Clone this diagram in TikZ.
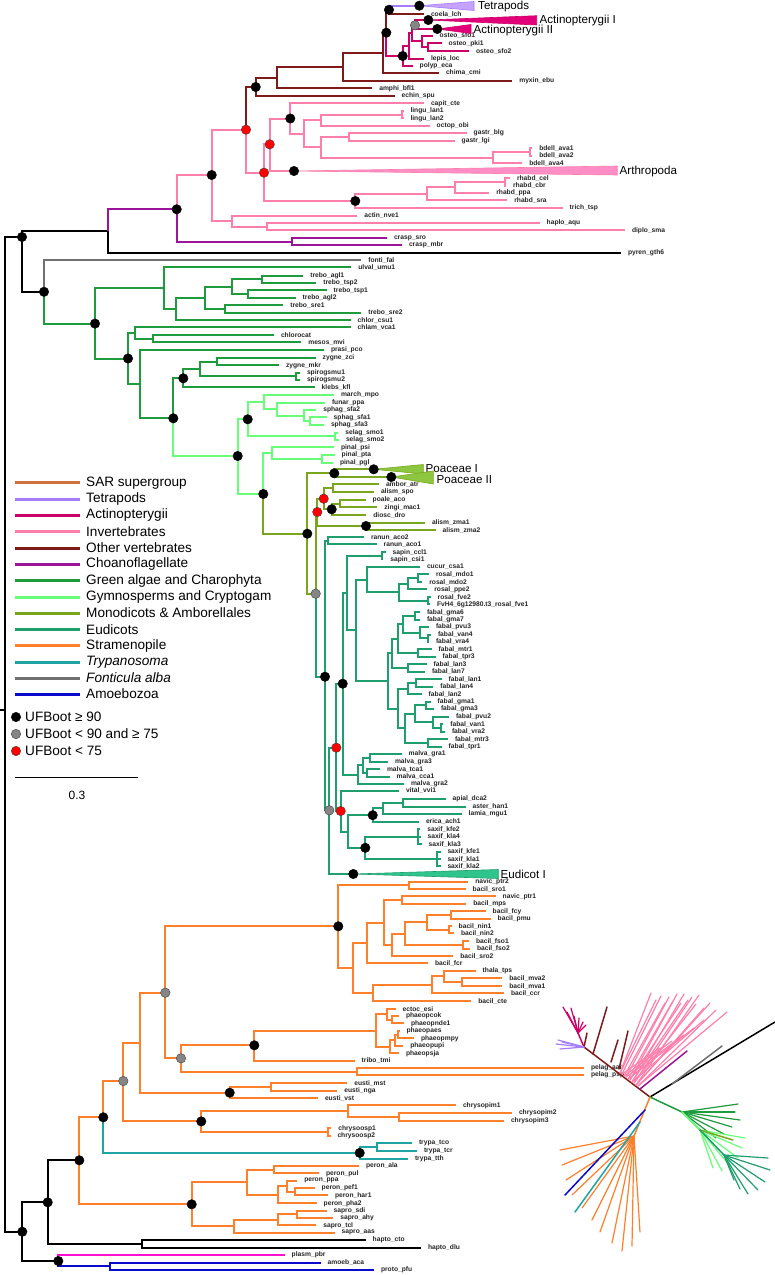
\documentclass[tikz,border=0pt]{standalone}
\usepackage{fontspec}
\setmainfont{Liberation Sans}
\definecolor{cov}{HTML}{7F1A1A}
\definecolor{ctp}{HTML}{A67CFF}
\definecolor{ctpf}{HTML}{C6A2FF}
\definecolor{cac}{HTML}{CC0066}
\definecolor{cacf}{HTML}{E2007A}
\definecolor{civ}{HTML}{FF7FAA}
\definecolor{civf}{HTML}{FF8DC6}
\definecolor{cch}{HTML}{9B159B}
\definecolor{cga}{HTML}{1E9B3C}
\definecolor{cgy}{HTML}{66FF77}
\definecolor{cmo}{HTML}{7AA61E}
\definecolor{cmof}{HTML}{8DC63F}
\definecolor{ceu}{HTML}{1F9E6E}
\definecolor{ceuf}{HTML}{2EC48C}
\definecolor{cst}{HTML}{FF7F2A}
\definecolor{ctr}{HTML}{1FA3A3}
\definecolor{cfa}{HTML}{707070}
\definecolor{cam}{HTML}{0A0ACC}
\definecolor{csar}{HTML}{D0703C}
\definecolor{cpl}{HTML}{FF10D0}
\newcommand\Nd[5]{\coordinate (#1) at (#3,#4); \draw[#5] (#2) |- (#1);}
\newcommand\Lf[6]{\coordinate (#1) at (#3,#4); \draw[#5] (#2) |- (#1); \node[lab] (#1t) at (#1) {#6};}
\tikzset{
 lab/.style={anchor=west, inner sep=0pt, xshift=6pt, font=\fontsize{6.7}{7}\selectfont\bfseries, text=black!85},
 big/.style={anchor=west, inner sep=0pt, font=\fontsize{11.6}{13}\selectfont},
 legt/.style={anchor=west, inner sep=0pt, font=\fontsize{13.6}{15}\selectfont},
 bd/.style={circle, fill=black, draw=black, line width=0.4pt, minimum size=9.5pt, inner sep=0pt},
 gd/.style={circle, fill=black!48, draw=black!75, line width=0.4pt, minimum size=9.5pt, inner sep=0pt},
 rd/.style={circle, fill=red, draw=black!75, line width=0.4pt, minimum size=9.5pt, inner sep=0pt},
}
\begin{document}
\begin{tikzpicture}[x=1pt,y=-1pt]
\fill[white] (0,0) rectangle (775,1275);
\useasboundingbox (0,0) rectangle (775,1275);
\begin{scope}[line width=2pt]
\coordinate (rootstub) at (0,710);
\coordinate (root) at (5,710);
\draw[black] (rootstub) -- (root);
\Nd{Q}{root}{22}{237}{black}
\Nd{P}{Q}{108}{231}{black}
\Nd{R}{Q}{44}{291.8}{black}
\Lf{pyren}{P}{621}{252.7}{black}{pyren\_gth6}
\Lf{fonti}{R}{361.3}{260}{cfa}{fonti\_fal}
% animals
\Nd{Ch}{P}{176.7}{209.3}{cch}
\Nd{Cr}{Ch}{291.7}{241.5}{cch}
\Lf{craspsro}{Cr}{387}{238}{cch}{crasp\_sro}
\Lf{craspmbr}{Cr}{402}{245}{cch}{crasp\_mbr}
\Nd{K0}{Ch}{211.7}{175}{civ}
\Nd{A2}{K0}{231.7}{221.2}{civ}
\Lf{actin}{A2}{357.3}{215.7}{civ}{actin\_nve1}
\Nd{A1}{A2}{266.7}{226.7}{civ}
\Lf{haplo}{A1}{539.7}{223}{civ}{haplo\_aqu}
\Lf{diplo}{A1}{625}{230.3}{civ}{diplo\_sma}
\Nd{Iv}{K0}{246}{129.7}{civ}
\Nd{E}{Iv}{255.7}{87}{cov}
\Nd{V1}{E}{276.7}{77.5}{cov}
\Lf{echin}{E}{394.7}{95.7}{cov}{echin\_spu}
\Nd{V2}{V1}{343.3}{66.5}{cov}
\Lf{amphi}{V1}{372.3}{88.3}{cov}{amphi\_bfl1}
\Nd{V3}{V2}{383}{52.7}{cov}
\Lf{myxin}{V2}{512.3}{80.7}{cov}{myxin\_ebu}
\Nd{S}{V3}{386.3}{32.7}{cov}
\Lf{chima}{V3}{439}{72.7}{cov}{chima\_cmi}
\Nd{T}{S}{389}{9.8}{cov}
\Nd{Tet}{T}{419.3}{5.7}{ctp}
\Lf{coela}{T}{424}{14}{cov}{coela\_lch}
\Nd{Ac}{S}{402.7}{56}{cac}
\Nd{Ac2}{Ac}{409}{46}{cac}
\Lf{polyp}{Ac}{412.7}{66}{cac}{polyp\_eca}
\Nd{A3}{Ac2}{412}{33.2}{cac}
\Lf{lepis}{Ac2}{424}{59}{cac}{lepis\_loc}
\Nd{AA}{A3}{415}{25.3}{cac}
\Nd{O1}{A3}{421.7}{41.4}{cac}
\Nd{AI}{AA}{428.3}{20}{cac}
\Nd{AII}{AA}{437.3}{29}{cac}
\Lf{osfo1}{O1}{432.7}{35.7}{cac}{osteo\_sfo1}
\Nd{O2}{O1}{428.3}{47.2}{cac}
\Lf{opki1}{O2}{441.7}{43.3}{cac}{osteo\_pki1}
\Lf{osfo2}{O2}{469}{51}{cac}{osteo\_sfo2}
\Nd{I}{Iv}{264}{172.7}{civ}
\Nd{J}{I}{269.7}{144.3}{civ}
\Nd{K}{J}{290.3}{118.5}{civ}
\Lf{capit}{K}{424}{103.3}{civ}{capit\_cte}
\Nd{Kb}{K}{304.3}{133.7}{civ}
\Nd{L1}{Kb}{320.7}{120.2}{civ}
\Nd{Lg}{L1}{401.7}{114.7}{civ}
\Lf{lingu1}{Lg}{403.5}{111}{civ}{lingu\_lan1}
\Lf{lingu2}{Lg}{403.5}{118.3}{civ}{lingu\_lan2}
\Lf{octop}{L1}{429.7}{125.7}{civ}{octop\_obi}
\Nd{L2}{Kb}{321}{147.2}{civ}
\Nd{Gs}{L2}{348.7}{136.7}{civ}
\Lf{gastrb}{Gs}{466.7}{132.7}{civ}{gastr\_blg}
\Lf{gastrl}{Gs}{454.7}{140.7}{civ}{gastr\_lgi}
\Nd{Bd}{L2}{493.3}{157.7}{civ}
\Nd{Bd1}{Bd}{530}{152}{civ}
\Lf{bdell1}{Bd1}{532.3}{148.3}{civ}{bdell\_ava1}
\Lf{bdell2}{Bd1}{532.3}{155.7}{civ}{bdell\_ava2}
\Lf{bdell4}{Bd}{522.3}{163.3}{civ}{bdell\_ava4}
\Nd{Arth}{J}{294}{171}{civ}
\Nd{R1}{I}{355.3}{201}{civ}
\Nd{R3}{R1}{426.7}{193.8}{civ}
\Lf{trich}{R1}{562.7}{208}{civ}{trich\_tsp}
\Nd{R4}{R3}{455}{187.3}{civ}
\Lf{rhsra}{R3}{507.3}{200.3}{civ}{rhabd\_sra}
\Nd{Rp}{R4}{505}{182}{civ}
\Lf{rhppa}{R4}{489.3}{192.7}{civ}{rhabd\_ppa}
\Lf{rhcel}{Rp}{510}{178.3}{civ}{rhabd\_cel}
\Lf{rhcbr}{Rp}{506}{185.7}{civ}{rhabd\_cbr}
% green algae
\Nd{G1}{R}{95}{323.6}{cga}
\Nd{G2}{G1}{164}{288.2}{cga}
\Lf{ulval}{G2}{351.3}{267.3}{cga}{ulval\_umu1}
\Nd{G3}{G2}{176}{309}{cga}
\Nd{G4}{G3}{205}{297.9}{cga}
\Lf{chlor}{G3}{350.7}{320}{cga}{chlor\_csu1}
\Nd{G5}{G4}{231.7}{286.7}{cga}
\Nd{Tp3}{G4}{225}{309}{cga}
\Nd{Tp1}{G5}{262}{279.3}{cga}
\Nd{Tp2}{G5}{248}{294}{cga}
\Lf{tagl1}{Tp1}{303.3}{275.7}{cga}{trebo\_agl1}
\Lf{ttsp2}{Tp1}{316.3}{283}{cga}{trebo\_tsp2}
\Lf{ttsp1}{Tp2}{326.7}{290.3}{cga}{trebo\_tsp1}
\Lf{tagl2}{Tp2}{295.7}{297.7}{cga}{trebo\_agl2}
\Lf{tsre1}{Tp3}{283.3}{305.3}{cga}{trebo\_sre1}
\Lf{tsre2}{Tp3}{361.3}{312.7}{cga}{trebo\_sre2}
\Nd{Nb}{G1}{128}{358.5}{cga}
\Nd{Nq}{Nb}{135}{333}{cga}
\Lf{chlam}{Nq}{350.7}{327.3}{cga}{chlam\_vca1}
\Nd{Cm}{Nq}{153.3}{338.7}{cga}
\Lf{chlorocat}{Cm}{274}{335}{cga}{chlorocat}
\Lf{mesos}{Cm}{301.3}{342.3}{cga}{mesos\_mvi}
\Nd{Np}{Nb}{140}{384}{cga}
\Lf{prasi}{Np}{324}{350}{cga}{prasi\_pco}
\Nd{Z4}{Np}{173.3}{418.3}{cga}
\Nd{Z3}{Z4}{183.3}{378.3}{cga}
\Nd{Z2}{Z3}{200}{368.9}{cga}
\Lf{klebs}{Z3}{314.7}{387.3}{cga}{klebs\_kfl}
\Nd{Zy}{Z2}{216.7}{361.5}{cga}
\Nd{Sp}{Z2}{295.7}{376.3}{cga}
\Lf{zzci}{Zy}{315.7}{357.7}{cga}{zygne\_zci}
\Lf{zmkr}{Zy}{279}{365.3}{cga}{zygne\_mkr}
\Lf{spiro1}{Sp}{300}{372.7}{cga}{spirogsmu1}
\Lf{spiro2}{Sp}{300}{380}{cga}{spirogsmu2}
% gymnosperms and cryptogams
\Nd{Gy}{Z4}{237.7}{456}{cgy}
\Nd{M}{Gy}{247.7}{419.3}{cgy}
\Nd{Br1}{M}{264.3}{402}{cgy}
\Lf{march}{Br1}{334}{395}{cgy}{march\_mpo}
\Nd{Br2}{Br1}{276.7}{409.1}{cgy}
\Lf{funar}{Br2}{325}{402.7}{cgy}{funar\_ppa}
\Nd{Sph}{Br2}{304}{415.5}{cgy}
\Lf{sfa2}{Sph}{316.3}{410}{cgy}{sphag\_sfa2}
\Nd{Sph2}{Sph}{310}{421}{cgy}
\Lf{sfa1}{Sph2}{326.7}{417.3}{cgy}{sphag\_sfa1}
\Lf{sfa3}{Sph2}{324}{424.7}{cgy}{sphag\_sfa3}
\Nd{Se}{M}{335}{436.3}{cgy}
\Lf{smo1}{Se}{338.3}{432.7}{cgy}{selag\_smo1}
\Lf{smo2}{Se}{339}{440}{cgy}{selag\_smo2}
\Nd{Sp2}{Gy}{263.3}{494}{cgy}
\Nd{Pn0}{Sp2}{271.7}{453}{cgy}
\Lf{psi}{Pn0}{334}{447.3}{cgy}{pinal\_psi}
\Nd{Pn1}{Pn0}{321.7}{458.8}{cgy}
\Lf{pta}{Pn1}{334.7}{455}{cgy}{pinal\_pta}
\Lf{pgl}{Pn1}{333}{462.7}{cgy}{pinal\_pgl}
% monocots
\Nd{Mon}{Sp2}{307.3}{533.7}{cmo}
\Nd{Poa}{Mon}{334.3}{473.3}{cmo}
\Nd{PI}{Poa}{373.7}{469.3}{cmo}
\Nd{PII}{Poa}{391.3}{477}{cmo}
\Nd{Gm}{Mon}{315.7}{593.7}{cmo}
\Nd{red1}{Gm}{317.3}{512}{cmo}
\Nd{red2}{red1}{323.7}{498.7}{cmo}
\Nd{AmA}{red2}{332.7}{488}{cmo}
\Lf{ambor}{AmA}{379}{484.3}{cmo}{ambor\_atr}
\Lf{alspo}{AmA}{374}{491.7}{cmo}{alism\_spo}
\Nd{Po}{red2}{331.7}{509.3}{cmo}
\Nd{Pz}{Po}{340}{503.7}{cmo}
\Lf{poale}{Pz}{365.7}{500}{cmo}{poale\_aco}
\Lf{zingi}{Pz}{377.3}{507.3}{cmo}{zingi\_mac1}
\Lf{diosc}{Po}{366.3}{515}{cmo}{diosc\_dro}
\Nd{Az}{red1}{366}{526}{cmo}
\Lf{zma1}{Az}{425}{522.7}{cmo}{alism\_zma1}
\Lf{zma2}{Az}{435.7}{530}{cmo}{alism\_zma2}
% eudicots
\Nd{Eu}{Gm}{325}{676.7}{ceu}
\Nd{Ra}{Eu}{328.3}{540.8}{ceu}
\Lf{raco2}{Ra}{364}{537.3}{ceu}{ranun\_aco2}
\Lf{raco1}{Ra}{376.7}{544.3}{ceu}{ranun\_aco1}
\Nd{Gr}{Eu}{329.3}{810.3}{ceu}
\Nd{R5}{Gr}{336.3}{747.7}{ceu}
\Nd{EI}{Gr}{353.3}{874}{ceu}
\Nd{MS}{R5}{342.7}{683.7}{ceu}
\Nd{R6}{R5}{340.7}{811}{ceu}
\Nd{SF}{MS}{347.3}{593}{ceu}
\Nd{M4}{MS}{358.3}{774.7}{ceu}
\Nd{Sa}{SF}{381.7}{555.8}{ceu}
\Lf{sccl1}{Sa}{385.7}{552.3}{ceu}{sapin\_ccl1}
\Lf{scsi1}{Sa}{383.3}{559.3}{ceu}{sapin\_csi1}
\Nd{FR}{SF}{356}{630.2}{ceu}
\Nd{CR}{FR}{366.7}{579.5}{ceu}
\Lf{cucur}{CR}{420}{566.7}{ceu}{cucur\_csa1}
\Nd{Ro}{CR}{399.3}{592.2}{ceu}
\Nd{RoP}{Ro}{408.3}{583.8}{ceu}
\Nd{Rm}{RoP}{417.7}{578.2}{ceu}
\Lf{mdo1}{Rm}{429}{574.3}{ceu}{rosal\_mdo1}
\Lf{mdo2}{Rm}{422.3}{582}{ceu}{rosal\_mdo2}
\Lf{ppe2}{RoP}{427.3}{589.3}{ceu}{rosal\_ppe2}
\Nd{Rf}{Ro}{427.7}{600.7}{ceu}
\Lf{fve2}{Rf}{430.7}{597}{ceu}{rosal\_fve2}
\Lf{fve1}{Rf}{430}{604.3}{ceu}{FvH4\_6g12980.t3\_rosal\_fve1}
\Nd{Fab}{FR}{388.3}{681}{ceu}
\Nd{P8}{Fab}{392}{653.4}{ceu}
\Nd{P6}{P8}{398}{638.8}{ceu}
\Nd{P4}{P6}{403}{624.4}{ceu}
\Nd{P1}{P4}{415}{616.2}{ceu}
\Lf{gma6}{P1}{420}{612.3}{ceu}{fabal\_gma6}
\Lf{gma7}{P1}{420}{619.7}{ceu}{fabal\_gma7}
\Nd{P3}{P4}{420}{632.7}{ceu}
\Lf{pvu3}{P3}{429}{627}{ceu}{fabal\_pvu3}
\Nd{P2}{P3}{428}{638.3}{ceu}
\Lf{van4}{P2}{431}{634.5}{ceu}{fabal\_van4}
\Lf{vra4}{P2}{429}{641.7}{ceu}{fabal\_vra4}
\Nd{P5}{P6}{418}{653.2}{ceu}
\Lf{mtr1}{P5}{431.7}{649.3}{ceu}{fabal\_mtr1}
\Lf{tpr3}{P5}{435.7}{657}{ceu}{fabal\_tpr3}
\Nd{P7}{P8}{408}{668}{ceu}
\Lf{lan3}{P7}{426.7}{664.3}{ceu}{fabal\_lan3}
\Lf{lan7}{P7}{425}{671.7}{ceu}{fabal\_lan7}
\Nd{Q9}{Fab}{398}{708.5}{ceu}
\Nd{Q2}{Q9}{408}{688.6}{ceu}
\Nd{Q1}{Q2}{416}{682.8}{ceu}
\Lf{lan1}{Q1}{441.7}{679}{ceu}{fabal\_lan1}
\Lf{lan4}{Q1}{433.3}{686.7}{ceu}{fabal\_lan4}
\Lf{lan2}{Q2}{421.7}{694.3}{ceu}{fabal\_lan2}
\Nd{Q8}{Q9}{405}{728.3}{ceu}
\Nd{Q6}{Q8}{415}{713.8}{ceu}
\Nd{Q3}{Q6}{426}{705.3}{ceu}
\Lf{gma1}{Q3}{430.7}{701.7}{ceu}{fabal\_gma1}
\Lf{gma3}{Q3}{434}{709}{ceu}{fabal\_gma3}
\Nd{Q5}{Q6}{433}{722.3}{ceu}
\Lf{pvu2}{Q5}{449}{716.7}{ceu}{fabal\_pvu2}
\Nd{Q4}{Q5}{441}{727.8}{ceu}
\Lf{van1}{Q4}{443.3}{724}{ceu}{fabal\_van1}
\Lf{vra2}{Q4}{445}{731.7}{ceu}{fabal\_vra2}
\Nd{Q7}{Q8}{428}{742.8}{ceu}
\Lf{mtr3}{Q7}{448}{739}{ceu}{fabal\_mtr3}
\Lf{tpr1}{Q7}{441.7}{746.7}{ceu}{fabal\_tpr1}
\Nd{M3}{M4}{363.3}{765.3}{ceu}
\Lf{gra2}{M4}{404}{784}{ceu}{malva\_gra2}
\Nd{M1}{M3}{370}{757.8}{ceu}
\Lf{gra1}{M1}{401.7}{754}{ceu}{malva\_gra1}
\Lf{gra3}{M1}{388}{761.7}{ceu}{malva\_gra3}
\Nd{M2}{M3}{366.7}{772.8}{ceu}
\Lf{tca1}{M2}{380}{769}{ceu}{malva\_tca1}
\Lf{cca1}{M2}{389.7}{776.7}{ceu}{malva\_cca1}
\Lf{vital}{R6}{399}{790.7}{ceu}{vital\_vvi1}
\Nd{As0}{R6}{348.3}{831.5}{ceu}
\Nd{Ast}{As0}{372.7}{815.2}{ceu}
\Nd{A2n}{Ast}{383.3}{808.4}{ceu}
\Nd{A1n}{A2n}{403.3}{802.8}{ceu}
\Lf{apial}{A1n}{445.7}{799}{ceu}{apial\_dca2}
\Lf{aster}{A1n}{465.7}{806.7}{ceu}{aster\_han1}
\Lf{lamia}{A2n}{461.7}{814}{ceu}{lamia\_mgu1}
\Lf{erica}{Ast}{419}{821.7}{ceu}{erica\_ach1}
\Nd{Sx}{As0}{365.3}{847.8}{ceu}
\Nd{Sx1}{Sx}{418.3}{836.5}{ceu}
\Lf{kfe2}{Sx1}{420.3}{829}{ceu}{saxif\_kfe2}
\Lf{kla4}{Sx1}{420.7}{836.7}{ceu}{saxif\_kla4}
\Lf{kla3}{Sx1}{421.7}{844}{ceu}{saxif\_kla3}
\Nd{Sx2}{Sx}{436.7}{859}{ceu}
\Lf{kfe1}{Sx2}{440.5}{851.7}{ceu}{saxif\_kfe1}
\Lf{kla1}{Sx2}{440.5}{859}{ceu}{saxif\_kla1}
\Lf{kla2}{Sx2}{440.5}{866.3}{ceu}{saxif\_kla2}
% bottom part
\Nd{B0}{root}{22.3}{1231.7}{black}
\Nd{B1}{B0}{47.7}{1202.3}{black}
\Nd{Am}{B0}{58.3}{1261}{black}
\Lf{plasm}{Am}{284.7}{1255}{cpl}{plasm\_pbr}
\Nd{Amo}{Am}{110}{1266.3}{cam}
\Lf{amoeb}{Amo}{320.7}{1262.7}{cam}{amoeb\_aca}
\Lf{proto}{Amo}{374}{1270}{cam}{proto\_pfu}
\Nd{B2}{B1}{79.3}{1160.3}{black}
\Nd{Hap}{B1}{142.3}{1243.8}{black}
\Lf{hcto}{Hap}{365.7}{1240}{black}{hapto\_cto}
\Lf{hdlu}{Hap}{421}{1247.7}{black}{hapto\_dlu}
\Nd{B3}{B2}{103.3}{1117.3}{cst}
\Nd{PS}{B2}{191.7}{1204.3}{cst}
\Nd{B4}{B3}{123.3}{1081}{cst}
\Nd{Tr}{B3}{359.7}{1152.9}{ctr}
\Nd{Tr2}{Tr}{376.7}{1147}{ctr}
\Lf{tco}{Tr2}{412}{1143}{ctr}{trypa\_tco}
\Lf{tcr}{Tr2}{417}{1151}{ctr}{trypa\_tcr}
\Lf{tth}{Tr}{408}{1158.7}{ctr}{trypa\_tth}
\Nd{B7}{B4}{140}{1042.5}{cst}
\Nd{Chr}{B4}{201.3}{1121.4}{cst}
\Nd{B8}{B7}{165.3}{992.7}{cst}
\Nd{Eus}{B7}{229.7}{1092.7}{cst}
\Nd{E1}{Eus}{270.7}{1087}{cst}
\Lf{emst}{E1}{347.3}{1083.3}{cst}{eusti\_mst}
\Lf{enga}{E1}{337.3}{1090.7}{cst}{eusti\_nga}
\Lf{evst}{Eus}{318}{1098.3}{cst}{eusti\_vst}
\Nd{Cp1}{Chr}{347.7}{1111}{cst}
\Lf{cpim1}{Cp1}{456}{1105.3}{cst}{chrysopim1}
\Nd{Cp2}{Cp1}{399}{1116.8}{cst}
\Lf{cpim2}{Cp2}{512}{1113}{cst}{chrysopim2}
\Lf{cpim3}{Cp2}{504}{1120.7}{cst}{chrysopim3}
\Nd{Co}{Chr}{328.3}{1131.8}{cst}
\Lf{coosp1}{Co}{331.3}{1128.3}{cst}{chrysoosp1}
\Lf{coosp2}{Co}{330.5}{1135.7}{cst}{chrysoosp2}
\Nd{Bac}{B8}{338.3}{926.3}{cst}
\Nd{B6}{B8}{181}{1058.3}{cst}
\Nd{Ph}{B6}{254.3}{1045.3}{cst}
\Nd{Pel}{B6}{356.7}{1071.5}{cst}
\Lf{paan}{Pel}{584}{1068}{cst}{pelag\_aan}
\Lf{ppsp}{Pel}{584}{1075}{cst}{pelag\_psp}
\Nd{Phe}{Ph}{376}{1030.5}{cst}
\Lf{tribo}{Ph}{354.7}{1060.7}{cst}{tribo\_tmi}
\Nd{Ec}{Phe}{386.7}{1014.3}{cst}
\Lf{ectoc}{Ec}{395.7}{1009}{cst}{ectoc\_esi}
\Nd{Ec2}{Ec}{392.3}{1019.7}{cst}
\Lf{pcok}{Ec2}{399}{1016}{cst}{phaeopcok}
\Lf{pnde}{Ec2}{404}{1023.3}{cst}{phaeopnde1}
\Nd{Pha}{Phe}{390}{1046.8}{cst}
\Nd{Pp2}{Pha}{395}{1040.2}{cst}
\Nd{Pp1}{Pp2}{398.3}{1034.7}{cst}
\Lf{paes}{Pp1}{399.5}{1031}{cst}{phaeopaes}
\Lf{pmpy}{Pp1}{414}{1038.3}{cst}{phaeopmpy}
\Lf{pupi}{Pp2}{403.3}{1045.7}{cst}{phaeopupi}
\Lf{psja}{Pha}{399}{1053.3}{cst}{phaeopsja}
\Nd{N1}{Bac}{409.3}{885.3}{cst}
\Lf{nptr2}{N1}{468.3}{881.7}{cst}{navic\_ptr2}
\Lf{bsro1}{N1}{465.7}{889}{cst}{bacil\_sro1}
\Nd{N2}{Bac}{352.7}{968}{cst}
\Nd{N3}{N2}{367.3}{942.9}{cst}
\Nd{N4}{N2}{372.7}{992.9}{cst}
\Nd{N5}{N3}{384}{922.5}{cst}
\Lf{bfcr}{N3}{428}{963.3}{cst}{bacil\_fcr}
\Nd{N6}{N5}{401.7}{900.2}{cst}
\Lf{nptr1}{N6}{495.7}{896.3}{cst}{navic\_ptr1}
\Lf{bmps}{N6}{466.3}{904}{cst}{bacil\_mps}
\Nd{N7}{N5}{391.7}{944.8}{cst}
\Nd{N8}{N7}{405}{933.6}{cst}
\Lf{bsro2}{N7}{453.3}{956}{cst}{bacil\_sro2}
\Nd{N9}{N8}{427.3}{922.4}{cst}
\Nd{Fs}{N8}{463.3}{944.8}{cst}
\Lf{bfso1}{Fs}{469}{941}{cst}{bacil\_fso1}
\Lf{bfso2}{Fs}{470}{948.7}{cst}{bacil\_fso2}
\Nd{Fp}{N9}{450.7}{915.2}{cst}
\Lf{bfcy}{Fp}{485.7}{911.3}{cst}{bacil\_fcy}
\Lf{bpmu}{Fp}{490.7}{919}{cst}{bacil\_pmu}
\Nd{Ni}{N9}{449}{929.7}{cst}
\Lf{bnin1}{Ni}{451.7}{926}{cst}{bacil\_nin1}
\Lf{bnin2}{Ni}{454}{933.3}{cst}{bacil\_nin2}
\Nd{N10}{N4}{431.7}{984.8}{cst}
\Lf{bcte}{N4}{471.3}{1001}{cst}{bacil\_cte}
\Nd{N11}{N10}{444}{976.4}{cst}
\Lf{bccr}{N10}{504}{993.3}{cst}{bacil\_ccr}
\Lf{thala}{N11}{475.7}{970.7}{cst}{thala\_tps}
\Nd{Mv}{N11}{462.3}{982.2}{cst}
\Lf{mva2}{Mv}{502.3}{978.3}{cst}{bacil\_mva2}
\Lf{mva1}{Mv}{502.3}{986}{cst}{bacil\_mva1}
\Nd{Pe5}{PS}{247.3}{1182.2}{cst}
\Nd{Pe1}{Pe5}{274.3}{1169.5}{cst}
\Lf{pala}{Pe1}{359}{1165.7}{cst}{peron\_ala}
\Lf{ppul}{Pe1}{319}{1173.3}{cst}{peron\_pul}
\Nd{Pe4}{Pe5}{277.7}{1194.8}{cst}
\Nd{Pe3}{Pe4}{286.7}{1186.2}{cst}
\Lf{pppa}{Pe3}{297.3}{1180.7}{cst}{peron\_ppa}
\Nd{Pe2}{Pe3}{295}{1191.7}{cst}
\Lf{ppef1}{Pe2}{314.7}{1188}{cst}{peron\_pef1}
\Lf{phar1}{Pe2}{328}{1195.3}{cst}{peron\_har1}
\Lf{ppha2}{Pe4}{316.7}{1203.3}{cst}{peron\_pha2}
\Nd{Sa3}{PS}{234.3}{1226.2}{cst}
\Nd{Sa2}{Sa3}{278.3}{1219.8}{cst}
\Nd{Sa1}{Sa2}{296.7}{1214.3}{cst}
\Lf{ssdi}{Sa1}{326.7}{1210.7}{cst}{sapro\_sdi}
\Lf{sahy}{Sa1}{333.3}{1218}{cst}{sapro\_ahy}
\Lf{stcl}{Sa2}{316.3}{1225.3}{cst}{sapro\_tcl}
\Lf{saas}{Sa3}{334.7}{1232.7}{cst}{sapro\_aas}
\end{scope}
% collapsed clades
\coordinate (TetB1) at (474,1.5); \coordinate (TetB2) at (474,10.5);
\filldraw[fill=ctpf, draw=ctp, line width=0.6pt] (Tet) -- (TetB1) -- (TetB2) -- cycle;
\node[big] (TetL) at (478,6) {Tetrapods};
\coordinate (AIB1) at (536.7,15.7); \coordinate (AIB2) at (536.7,25);
\filldraw[fill=cacf, draw=cac, line width=0.6pt] (AI) -- (AIB1) -- (AIB2) -- cycle;
\node[big] (AIL) at (539.5,20.5) {Actinopterygii I};
\coordinate (AIIB1) at (471,24.5); \coordinate (AIIB2) at (471,33.5);
\filldraw[fill=cacf, draw=cac, line width=0.6pt] (AII) -- (AIIB1) -- (AIIB2) -- cycle;
\node[big] (AIIL) at (473.5,30.5) {Actinopterygii II};
\coordinate (ArB1) at (617.3,166); \coordinate (ArB2) at (617.3,175);
\filldraw[fill=civf, draw=civ, line width=0.6pt] (Arth) -- (ArB1) -- (ArB2) -- cycle;
\node[big] (ArL) at (619.5,171) {Arthropoda};
\coordinate (PIB1) at (423.3,464.5); \coordinate (PIB2) at (423.3,474);
\filldraw[fill=cmof, draw=cmo, line width=0.6pt] (PI) -- (PIB1) -- (PIB2) -- cycle;
\node[big] (PIL) at (425.5,469) {Poaceae I};
\coordinate (PIIB1) at (433.3,471); \coordinate (PIIB2) at (433.3,484);
\filldraw[fill=cmof, draw=cmo, line width=0.6pt] (PII) -- (PIIB1) -- (PIIB2) -- cycle;
\node[big] (PIIL) at (436.5,479.3) {Poaceae II};
\coordinate (EIB1) at (498.3,869.5); \coordinate (EIB2) at (498.3,878.5);
\filldraw[fill=ceuf, draw=ceu, line width=0.6pt] (EI) -- (EIB1) -- (EIB2) -- cycle;
\node[big] (EIL) at (500.5,874) {Eudicot I};
% support dots
\foreach \n in {Q,R,G1,Nb,Z3,Z4,M,Gy,Sp2,Mon,Poa,PI,PII,Po,Az,Eu,MS,Ast,Sx,EI,T,Tet,AI,AII,S,Ac,E,K,Arth,R1,K0,Ch,Bac,Ph,B3,B2,B1,B0,Am,Eus,Chr,Tr,PS}
  \node[bd] (d\n) at (\n) {};
\foreach \n in {Gm,Gr,AA,B8,B6,B4}
  \node[gd] (d\n) at (\n) {};
\foreach \n in {red1,red2,R5,R6,Iv,J,I}
  \node[rd] (d\n) at (\n) {};
% legend
\foreach \yy/\lcol/\lbl [count=\i] in {482.7/csar/SAR supergroup, 499/ctp/Tetrapods, 515.3/cac/Actinopterygii, 531.7/civ/Invertebrates, 548/cov/Other vertebrates, 564.3/cch/Choanoflagellate, 580.7/cga/Green algae and Charophyta, 597/cgy/Gymnosperms and Cryptogam, 613/cmo/Monodicots \& Amborellales, 629.3/ceu/Eudicots, 645.7/cst/Stramenopile, 662/ctr/{\itshape Trypanosoma}, 678/cfa/{\itshape Fonticula alba}, 694/cam/Amoebozoa} {
  \coordinate (lg\i a) at (15,\yy); \coordinate (lg\i b) at (80,\yy);
  \draw[\lcol, line width=3pt] (lg\i a) -- (lg\i b);
  \node[legt] (lg\i t) at (86,\yy) {\lbl};
}
\node[bd] (u1d) at (16,717) {}; \node[legt] (u1t) at (25,717) {UFBoot ≥ 90};
\node[gd] (u2d) at (16,734) {}; \node[legt] (u2t) at (25,734) {UFBoot < 90 and ≥ 75};
\node[rd] (u3d) at (16,751) {}; \node[legt] (u3t) at (25,751) {UFBoot < 75};
\coordinate (sb1) at (15,777); \coordinate (sb2) at (138,777);
\draw[line width=1pt] (sb1) -- (sb2);
\node[font=\fontsize{12}{13}\selectfont, inner sep=0pt] (sbl) at (77,795) {0.3};
% unrooted overview tree
\begin{scope}[line width=1.2pt, line cap=round]
\coordinate (uC) at (650,1097);
\coordinate (uBk) at (775,1022);
\coordinate (uO) at (584,1047);
\draw[black, line width=1.5pt] (uC) -- (uBk);
\draw[cov, line width=1.5pt] (uC) -- (uO);
\draw[cfa, line width=1.5pt] (672,1084) -- (722,1046);
\draw[cch, line width=1.5pt] (640,1089) -- (687,1051);
\foreach \bx/\by/\tx/\ty in {620/1073/651/993, 620/1073/656/1000, 622/1074/661/996, 624/1076/665/1003, 626/1077/669/997, 628/1079/673/1001, 630/1080/677/994, 630/1080/681/1003, 632/1082/684/994, 632/1082/688/1000, 634/1083/692/997, 634/1083/696/1004, 636/1085/699/995, 636/1085/704/1008, 636/1085/710/1003, 638/1086/716/1010, 638/1086/727/1012, 632/1082/704/1020, 628/1079/694/1028, 626/1077/684/1035, 624/1076/672/1041, 622/1074/660/1048}
  \draw[civ] (\bx,\by) -- (\tx,\ty);
\draw[cov, line width=1.5pt] (593,1054) -- (607,1007);
\draw[cov, line width=1.5pt] (611,1062) -- (618,1040);
\draw[cov, line width=1.5pt] (619,1069) -- (628,1031);
\draw[cov, line width=1.5pt] (584,1047) -- (587,1033);
\draw[cac, line width=1.5pt] (584,1047) -- (578,1033);
\foreach \tx/\ty in {563/1007, 567/1012, 571/1008, 574/1016, 579/1018, 583/1022, 586/1025}
  \draw[cac] (578,1033) -- (\tx,\ty);
\foreach \tx/\ty in {556/1044, 558/1040, 560/1049, 562/1042}
  \draw[ctp] (584,1047) -- (\tx,\ty);
\draw[cga, line width=1.5pt] (uC) -- (682,1112);
\foreach \tx/\ty in {738/1104, 735/1112, 740/1120, 732/1127, 724/1134, 716/1138, 706/1136}
  \draw[cga] (682,1112) -- (\tx,\ty);
\draw[cgy, line width=1.5pt] (682,1112) -- (700,1130);
\foreach \tx/\ty in {745/1138, 742/1148, 738/1158, 730/1166, 722/1171, 713/1168}
  \draw[cgy] (700,1130) -- (\tx,\ty);
\draw[cmo, line width=1.5pt] (700,1130) -- (733,1140);
\draw[ceu, line width=1.5pt] (700,1130) -- (724,1155);
\foreach \tx/\ty in {768/1158, 770/1170, 765/1182, 758/1190, 748/1194, 740/1189, 734/1180}
  \draw[ceu] (724,1155) -- (\tx,\ty);
\draw[cst, line width=1.5pt] (uC) -- (634,1136);
\foreach \tx/\ty in {560/1150, 562/1165, 566/1180, 572/1195, 582/1208, 592/1220, 600/1232, 612/1243, 622/1251, 632/1246, 640/1232}
  \draw[cst] (634,1136) -- (\tx,\ty);
\draw[cam, line width=1.5pt] (645,1110) -- (565,1195);
\draw[ctr, line width=1.5pt] (640,1122) -- (575,1212);
\end{scope}
\end{tikzpicture}
\end{document}
